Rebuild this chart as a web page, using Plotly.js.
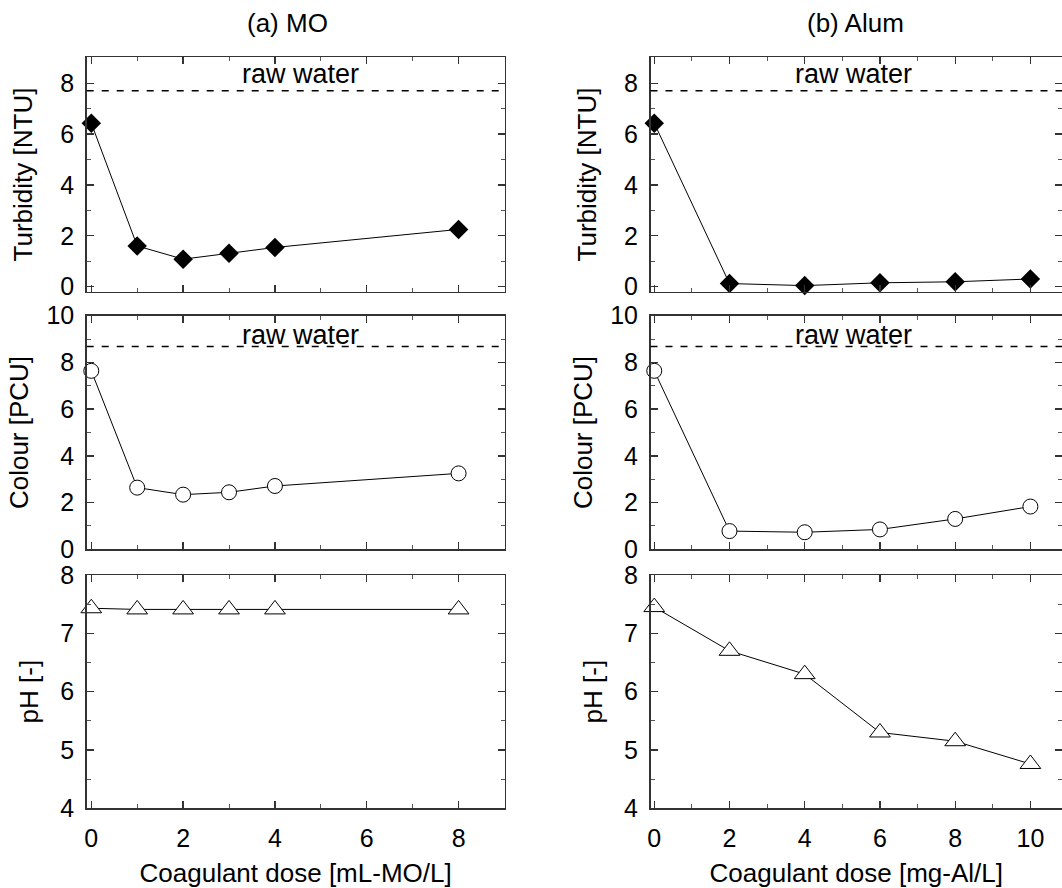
<!DOCTYPE html>
<html>
<head>
<meta charset="utf-8">
<script src="https://cdn.plot.ly/plotly-3.0.1.min.js"></script>
<style>
  html, body { margin: 0; padding: 0; background: #fff; overflow: hidden; }
  #chart { width: 1062px; height: 888px; }
</style>
</head>
<body>
<div id="chart"></div>
<script>
// ---------------- data ----------------
const doseMO = [0, 1, 2, 3, 4, 8];
const doseAlum = [0, 2, 4, 6, 8, 10];

const turbidityMO = [6.43, 1.6, 1.08, 1.31, 1.54, 2.25];
const turbidityAlum = [6.43, 0.12, 0.04, 0.15, 0.19, 0.3];

const colourMO = [7.64, 2.64, 2.34, 2.44, 2.71, 3.25];
const colourAlum = [7.64, 0.78, 0.73, 0.85, 1.3, 1.83];

const phMO = [7.43, 7.41, 7.41, 7.41, 7.41, 7.41];
const phAlum = [7.45, 6.7, 6.3, 5.3, 5.15, 4.76];

const rawTurbidity = [7.7];
const rawColour = [8.68];

const panelTitles = ['(a) MO', '(b) Alum'];
const xTitles = ['Coagulant dose [mL-MO/L]', 'Coagulant dose [mg-Al/L]'];
const yTitles = ['Turbidity [NTU]', 'Colour [PCU]', 'pH [-]'];
const rawLabel = 'raw water';

// ---------------- styling ----------------
const FONT = 'Liberation Sans, Arial, sans-serif';
const W = 1062, H = 888;

const colDomains = [[86.7 / W, 504.5 / W], [650.5 / W, 1.0]];
const rowDomains = [
  [(H - 291.7) / H, (H - 57.3) / H],
  [(H - 549.3) / H, (H - 315.7) / H],
  [(H - 808.3) / H, (H - 575.0) / H]
];
const xRanges = [[-0.1, 9.0], [-0.1, 10.84]];
const yRanges = [[-0.2, 9.02], [0, 10], [4, 8]];
const yDtick = [2, 2, 1];
const yMinor = [1, 1, 0.5];
const yStandoff = [20, 10, 14];

function axisBase() {
  return {
    showline: true, mirror: 'allticks', linecolor: '#333', linewidth: 1.5,
    ticks: 'inside', ticklen: 7, tickwidth: 1.3, tickcolor: '#333',
    showgrid: false, zeroline: false, fixedrange: true,
    tickfont: { family: FONT, size: 25, color: '#000' },
    minor: { ticks: 'inside', ticklen: 4, tickwidth: 1, tickcolor: '#555', showgrid: false }
  };
}

const layout = {
  width: W, height: H,
  margin: { l: 0, r: 0, t: 0, b: 0 },
  paper_bgcolor: '#fff', plot_bgcolor: '#fff',
  showlegend: false,
  font: { family: FONT, color: '#000' },
  annotations: [],
  shapes: []
};

const traces = [];
const seriesY = [
  [turbidityMO, colourMO, phMO],
  [turbidityAlum, colourAlum, phAlum]
];
const doses = [doseMO, doseAlum];
const markerStyles = [
  { symbol: 'diamond', size: 15, color: '#000', line: { width: 0 } },
  { symbol: 'circle', size: 15, color: '#fff', line: { width: 1, color: '#000' } },
  { symbol: 'triangle-up', size: 18, color: '#fff', line: { width: 1, color: '#000' } }
];
const rawVals = [rawTurbidity[0], rawColour[0]];

let idx = 0;
for (let c = 0; c < 2; c++) {
  for (let r = 0; r < 3; r++) {
    idx++;
    const xa = 'xaxis' + (idx === 1 ? '' : idx);
    const ya = 'yaxis' + (idx === 1 ? '' : idx);
    const xr = 'x' + (idx === 1 ? '' : idx);
    const yr = 'y' + (idx === 1 ? '' : idx);

    const xax = axisBase();
    Object.assign(xax, {
      domain: colDomains[c], anchor: yr, range: xRanges[c],
      tickmode: 'linear', tick0: 0, dtick: 2,
      showticklabels: r === 2, ticklabelstandoff: 7
    });
    xax.minor.dtick = 1; xax.minor.tick0 = 0;
    if (r === 2) {
      xax.title = { text: xTitles[c], font: { family: FONT, size: 26, color: '#000' }, standoff: 17 };
    }
    layout[xa] = xax;

    const yax = axisBase();
    Object.assign(yax, {
      domain: rowDomains[r], anchor: xr, range: yRanges[r],
      tickmode: 'linear', tick0: 0, dtick: yDtick[r], ticklabelstandoff: 6,
      title: { text: yTitles[r], font: { family: FONT, size: 26, color: '#000' }, standoff: yStandoff[r] }
    });
    yax.minor.dtick = yMinor[r]; yax.minor.tick0 = 0;
    layout[ya] = yax;

    traces.push({
      type: 'scatter', mode: 'lines+markers',
      x: doses[c], y: seriesY[c][r], xaxis: xr, yaxis: yr,
      line: { color: '#000', width: 1 },
      marker: markerStyles[r],
      cliponaxis: false, hoverinfo: 'skip'
    });

    if (r < 2) {
      layout.shapes.push({
        type: 'line', xref: xr + ' domain', yref: yr,
        x0: 0, x1: 1, y0: rawVals[r], y1: rawVals[r],
        line: { color: '#000', width: 1.5, dash: '7px,8px' }
      });
      layout.annotations.push({
        xref: xr + ' domain', yref: yr, x: 0.5, y: rawVals[r],
        xshift: c === 0 ? 5 : -3, yshift: r === 0 ? 0 : -5,
        xanchor: 'center', yanchor: 'bottom', showarrow: false,
        text: rawLabel, font: { family: FONT, size: 27, color: '#000' }
      });
    }
  }
}

const titleX = [287.5 / W, 855 / W];
for (let c = 0; c < 2; c++) {
  layout.annotations.push({
    xref: 'paper', yref: 'paper', x: titleX[c], y: (H - 23) / H,
    xanchor: 'center', yanchor: 'middle', showarrow: false,
    text: panelTitles[c], font: { family: FONT, size: 26, color: '#000' }
  });
}

Plotly.newPlot('chart', traces, layout, { displayModeBar: false, staticPlot: true });
</script>
</body>
</html>
